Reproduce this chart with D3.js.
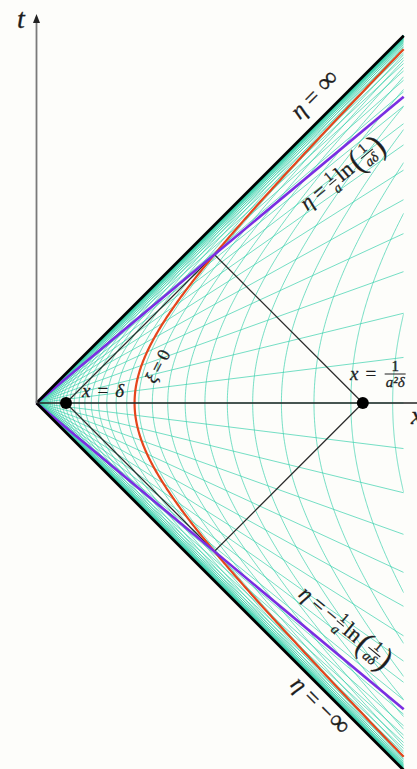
<!DOCTYPE html>
<html>
<head>
<meta charset="utf-8">
<script src="https://cdn.jsdelivr.net/npm/d3@7"></script>
<style>
  html, body { margin: 0; padding: 0; background: #fdfdfa; }
  svg { display: block; }
  text { font-family: "Liberation Serif", "DejaVu Serif", serif; fill: #1e1e1e; stroke: #1e1e1e; stroke-width: 0.3; }
</style>
</head>
<body>
<svg id="chart" width="417" height="769"></svg>
<script>
// Rindler wedge: x = e^{aξ} cosh(aη)/a, t = e^{aξ} sinh(aη)/a
const accel = 1.04;          // a
const delta = 0.289;         // δ
const xMax = 3.6;            // plotted extent of x (and |t|)
const gridStep = 0.12;       // spacing of the ξ and η coordinate lines
const xiOffset = 0.04;
const xiIndex = d3.range(-36, 11);    // constant-ξ hyperbolas
const etaIndex = d3.range(-40, 41);   // constant-η rays
const etaHorizon = (1 / accel) * Math.log(1 / (accel * delta));  // η = (1/a) ln(1/(aδ))
const xFar = 1 / (accel * accel * delta);                          // x = 1/(a²δ)

const W = 417, H = 769;
const svg = d3.select("#chart");

const x = d3.scaleLinear().domain([0, xMax]).range([36.5, 36.5 + 102 * xMax]);
const y = d3.scaleLinear().domain([-xMax, xMax]).range([403 + 102 * xMax, 403 - 102 * xMax]);

svg.append("rect").attr("width", W).attr("height", H).attr("fill", "#fdfdfa");

const defs = svg.append("defs");
defs.append("clipPath").attr("id", "wedge")
  .append("rect")
  .attr("x", x(0)).attr("y", 0)
  .attr("width", x(xMax) - x(0)).attr("height", H);

const line = d3.line().x(d => x(d[0])).y(d => y(d[1]));

const mesh = svg.append("g").attr("clip-path", "url(#wedge)")
  .attr("fill", "none").attr("stroke", "#33cfaa")
  .attr("stroke-width", 0.85).attr("stroke-opacity", 0.8);

// hyperbolas of constant ξ
function hyperbola(xi, n) {
  const r = Math.exp(accel * xi) / accel;
  if (r > xMax) return null;
  const u = Math.acosh(xMax / r);          // a·η where x reaches xMax
  return d3.range(n + 1).map(i => {
    const s = -u + 2 * u * i / n;
    return [r * Math.cosh(s), r * Math.sinh(s)];
  });
}
xiIndex.forEach(k => {
  const pts = hyperbola(xiOffset + gridStep * k, 320);
  if (pts) mesh.append("path").attr("d", line(pts));
});

// rays of constant η
etaIndex.forEach(k => {
  const slope = Math.tanh(accel * gridStep * k);
  mesh.append("path").attr("d", line([[0, 0], [xMax, xMax * slope]]));
});

// causal diamond between x = δ and x = 1/(a²δ)
const mid = (delta + xFar) / 2, half = (xFar - delta) / 2;
svg.append("path")
  .attr("d", line([[delta, 0], [mid, half], [xFar, 0], [mid, -half], [delta, 0]]))
  .attr("fill", "none").attr("stroke", "#2b2b2b").attr("stroke-width", 1.3);

// ξ = 0 hyperbola
svg.append("path").attr("d", line(hyperbola(0, 400)))
  .attr("fill", "none").attr("stroke", "#e5451c").attr("stroke-width", 2.2);

// η = ±(1/a) ln(1/(aδ))
const hSlope = Math.tanh(accel * etaHorizon);
[1, -1].forEach(s => {
  svg.append("path").attr("d", line([[0, 0], [xMax, s * xMax * hSlope]]))
    .attr("fill", "none").attr("stroke", "#7a2ee2").attr("stroke-width", 2.6);
});

// light cone η = ±∞
[1, -1].forEach(s => {
  svg.append("path").attr("d", line([[0, 0], [xMax, s * xMax]]))
    .attr("fill", "none").attr("stroke", "#000").attr("stroke-width", 2.8);
});

// axes
svg.append("line")
  .attr("x1", x(0)).attr("y1", y(0)).attr("x2", W + 5).attr("y2", y(0))
  .attr("stroke", "#222").attr("stroke-width", 1.4);
svg.append("line")
  .attr("x1", x(0)).attr("y1", y(0)).attr("x2", x(0)).attr("y2", 20)
  .attr("stroke", "#7a7a7a").attr("stroke-width", 1.8);
svg.append("path")
  .attr("d", `M${x(0)},14 L${x(0) - 3.5},23 L${x(0) + 3.5},23 Z`)
  .attr("fill", "#222");

// marked points
[delta, xFar].forEach(v => {
  svg.append("circle").attr("cx", x(v)).attr("cy", y(0)).attr("r", 6).attr("fill", "#000");
});

// ---- math labels ----
function mathLabel(cx, cy, angle, pieces, center = true) {
  const g = svg.append("g").attr("transform", `translate(${cx},${cy}) rotate(${angle})`);
  const inner = g.append("g");
  let cur = 0;
  pieces.forEach(p => {
    if (p.gap !== undefined) { cur += p.gap; return; }
    if (p.frac) {
      const fs = p.size;
      const num = inner.append("text").text(p.frac[0]).attr("font-size", fs)
        .attr("text-anchor", "middle");
      const den = inner.append("text").text(p.frac[1]).attr("font-size", fs)
        .attr("font-style", "italic").attr("text-anchor", "middle");
      const w = Math.max(num.node().getComputedTextLength(), den.node().getComputedTextLength()) + 3;
      const bar = -p.axis;
      num.attr("x", cur + w / 2).attr("y", bar - 2.6);
      den.attr("x", cur + w / 2).attr("y", bar + fs * 0.86);
      inner.append("line").attr("x1", cur + 0.5).attr("x2", cur + w - 0.5)
        .attr("y1", bar).attr("y2", bar).attr("stroke", "#1e1e1e").attr("stroke-width", 1);
      cur += w;
      return;
    }
    const dy = p.dy || 0;
    const t = inner.append("text").attr("x", cur).attr("y", dy)
      .attr("font-size", p.size).attr("font-style", p.it ? "italic" : "normal");
    t.text(p.t);
    if (p.sy) t.attr("transform", `translate(${cur},${dy}) scale(1,${p.sy}) translate(${-cur},${-dy})`);
    cur += t.node().getComputedTextLength();
  });
  if (center) inner.attr("transform", `translate(${-cur / 2},0)`);
  return g;
}

// t and x axis names
svg.append("text").attr("x", 17).attr("y", 28).attr("font-size", 28)
  .attr("font-style", "italic").text("t");
svg.append("text").attr("x", 411).attr("y", 424).attr("font-size", 26)
  .attr("font-style", "italic").text("x");

const F = 24, f = 14;
mathLabel(320, 100, -45, [
  { t: "η", it: true, size: F }, { gap: 6 }, { t: "=", size: F }, { gap: 6 }, { t: "∞", size: F + 4 }
]);

const angH = Math.atan(hSlope) * 180 / Math.PI;
mathLabel(346, 179, -angH, [
  { t: "η", it: true, size: 22 }, { gap: 5 }, { t: "=", size: 22 }, { gap: 5 },
  { frac: ["1", "a"], size: f, axis: 6 }, { gap: 2 }, { t: "ln", size: 22 }, { gap: 2 },
  { t: "(", size: 30, dy: 4, sy: 1.1 }, { frac: ["1", "aδ"], size: f, axis: 6 }, { t: ")", size: 30, dy: 4, sy: 1.1 }
]);

mathLabel(341, 632, angH, [
  { t: "η", it: true, size: 22 }, { gap: 5 }, { t: "=", size: 22 }, { gap: 4 }, { t: "−", size: 22 }, { gap: 1 },
  { frac: ["1", "a"], size: f, axis: 6 }, { gap: 2 }, { t: "ln", size: 22 }, { gap: 2 },
  { t: "(", size: 30, dy: 4, sy: 1.1 }, { frac: ["1", "aδ"], size: f, axis: 6 }, { t: ")", size: 30, dy: 4, sy: 1.1 }
]);

mathLabel(315, 711, 45, [
  { t: "η", it: true, size: F }, { gap: 6 }, { t: "=", size: F }, { gap: 6 }, { t: "−", size: F }, { gap: 1 }, { t: "∞", size: F + 4 }
]);

mathLabel(163, 369, -63, [
  { t: "ξ", it: true, size: 18 }, { gap: 4 }, { t: "=", size: 18 }, { gap: 4 }, { t: "0", size: 18 }
]);

mathLabel(82, 397, 0, [
  { t: "x", it: true, size: 19 }, { gap: 7 }, { t: "=", size: 19 }, { gap: 7 }, { t: "δ", it: true, size: 19 }
], false);

mathLabel(350, 380, 0, [
  { t: "x", it: true, size: 19 }, { gap: 7 }, { t: "=", size: 19 }, { gap: 8 },
  { frac: ["1", "a²δ"], size: 15, axis: 6 }
], false);
</script>
</body>
</html>
